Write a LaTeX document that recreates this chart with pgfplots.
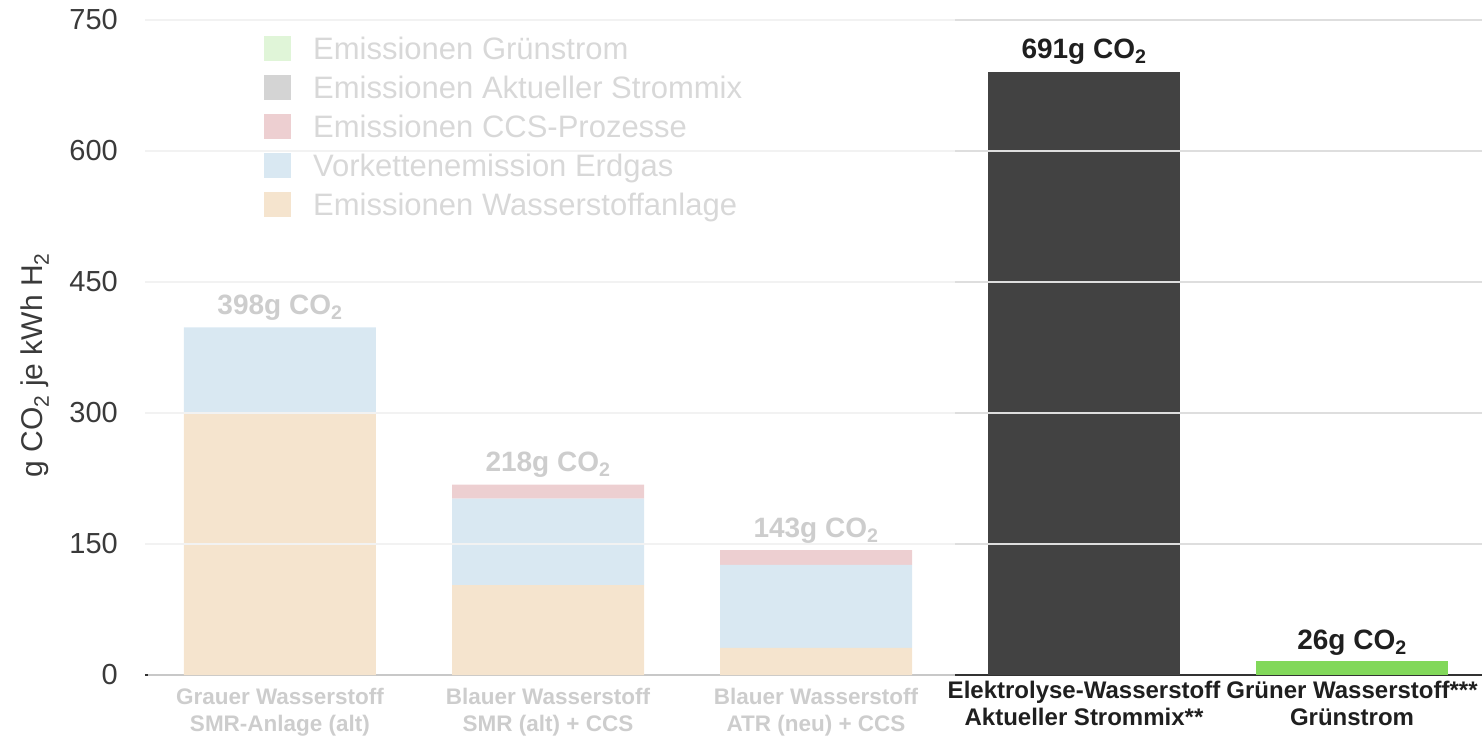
\documentclass[border=0pt]{standalone}
\usepackage{fontspec}
\setmainfont{Liberation Sans}
\usepackage{pgfplots}
\pgfplotsset{compat=1.18}
\definecolor{cOr}{RGB}{245,228,206}
\definecolor{cBl}{RGB}{217,232,242}
\definecolor{cRd}{RGB}{237,207,209}
\definecolor{cDk}{RGB}{66,66,66}
\definecolor{cGr}{RGB}{130,216,90}
\definecolor{lGr}{RGB}{224,245,216}
\definecolor{lGy}{RGB}{212,212,212}
\definecolor{fadeTxt}{RGB}{205,205,205}
\definecolor{legTxt}{RGB}{216,216,216}
\definecolor{tickTxt}{RGB}{58,58,58}
\definecolor{gridL}{RGB}{242,242,242}
\definecolor{gridR}{RGB}{222,222,222}
\definecolor{axL}{RGB}{200,200,200}
\definecolor{axD}{RGB}{50,50,50}
\begin{document}
\begin{tikzpicture}
\useasboundingbox (0,0) rectangle (1482pt,737pt);
\begin{axis}[
  at={(148pt,62pt)}, anchor=south west,
  scale only axis, width=1334pt, height=655pt,
  xmin=-0.4925, xmax=4.485, ymin=0, ymax=750,
  clip=false,
  ybar stacked, bar width=192pt,
  axis line style={draw=none},
  major tick length=0pt,
  tick style={draw=none},
  ytick={0,150,300,450,600,750},
  /pgf/number format/assume math mode=true,
  yticklabel style={font=\fontsize{29}{32}\selectfont, text=tickTxt, inner sep=0pt, anchor=east, xshift=-30pt},
  xtick={0,1,2},
  xticklabels={
    {Grauer Wasserstoff\\SMR-Anlage (alt)},
    {Blauer Wasserstoff\\SMR (alt) + CCS},
    {Blauer Wasserstoff\\ATR (neu) + CCS}},
  xticklabel style={align=center, anchor=north, inner sep=0pt, yshift=-13pt,
    font=\bfseries\fontsize{22.5}{27}\selectfont, text=fadeTxt},
  extra x ticks={3,4},
  extra x tick labels={
    {Elektrolyse-Wasserstoff\\Aktueller Strommix**},
    {Grüner Wasserstoff***\\Grünstrom}},
  extra x tick style={xticklabel style={yshift=7pt,
    font=\bfseries\fontsize{24}{27}\selectfont, text=black!88}},
  ylabel={g CO\textsubscript{2} je kWh H\textsubscript{2}},
  ylabel style={at={(axis description cs:-0.0847,0.473)}, anchor=center,
    font=\fontsize{30}{32}\selectfont, text=tickTxt, inner sep=0pt},
]
\pgfplotsinvokeforeach{150,300,450,600,750}{
  \draw[gridL, line width=1.2pt] (axis cs:-0.5037,#1) -- (axis cs:2.519,#1);
  \draw[gridR, line width=1.4pt] (axis cs:2.519,#1) -- (axis cs:4.485,#1);
}
\addplot[fill=cOr, draw=none] coordinates {(0,300) (1,103) (2,31) (3,0) (4,0)};
\addplot[fill=cBl, draw=none] coordinates {(0,98) (1,99) (2,95) (3,0) (4,0)};
\addplot[fill=cRd, draw=none] coordinates {(0,0) (1,16) (2,17) (3,0) (4,0)};
\addplot[fill=cDk, draw=none] coordinates {(0,0) (1,0) (2,0) (3,691) (4,0)};
\addplot[fill=cGr, draw=none] coordinates {(0,0) (1,0) (2,0) (3,0) (4,16)};

\draw[axL, line width=2pt] (axis cs:-0.4925,0) -- (axis cs:2.519,0);
\draw[axD, line width=2.5pt] (axis cs:2.519,0) -- (axis cs:4.485,0);
\draw[axD, line width=2.5pt] (axis cs:-0.5037,0) -- (axis cs:-0.459,0);

\node[anchor=base, inner sep=0pt, yshift=13pt, text=fadeTxt, font=\bfseries\fontsize{28}{32}\selectfont] at (axis cs:0,398) {398g CO\textsubscript{2}};
\node[anchor=base, inner sep=0pt, yshift=13pt, text=fadeTxt, font=\bfseries\fontsize{28}{32}\selectfont] at (axis cs:1,218) {218g CO\textsubscript{2}};
\node[anchor=base, inner sep=0pt, yshift=13pt, text=fadeTxt, font=\bfseries\fontsize{28}{32}\selectfont] at (axis cs:2,143) {143g CO\textsubscript{2}};
\node[anchor=base, inner sep=0pt, yshift=13pt, text=black!88, font=\bfseries\fontsize{28}{32}\selectfont] at (axis cs:3,691) {691g CO\textsubscript{2}};
\node[anchor=base, inner sep=0pt, yshift=12pt, text=black!88, font=\bfseries\fontsize{28}{32}\selectfont] at (axis cs:4,16) {26g CO\textsubscript{2}};
\end{axis}

% legend
\fill[lGr] (264pt,675.5pt) rectangle (291pt,700.5pt);
\fill[lGy] (264pt,636.5pt) rectangle (291pt,661.5pt);
\fill[cRd] (264pt,597.5pt) rectangle (291pt,622.5pt);
\fill[cBl] (264pt,558.5pt) rectangle (291pt,583.5pt);
\fill[cOr] (264pt,519.5pt) rectangle (291pt,544.5pt);
\begin{scope}[every node/.style={anchor=base west, inner sep=0pt, text=legTxt, font=\fontsize{31}{34}\selectfont}]
\node at (313pt,677pt) {Emissionen Grünstrom};
\node at (313pt,638pt) {Emissionen Aktueller Strommix};
\node at (313pt,599pt) {Emissionen CCS-Prozesse};
\node at (313pt,560pt) {Vorkettenemission Erdgas};
\node at (313pt,521pt) {Emissionen Wasserstoffanlage};
\end{scope}
\end{tikzpicture}
\end{document}
